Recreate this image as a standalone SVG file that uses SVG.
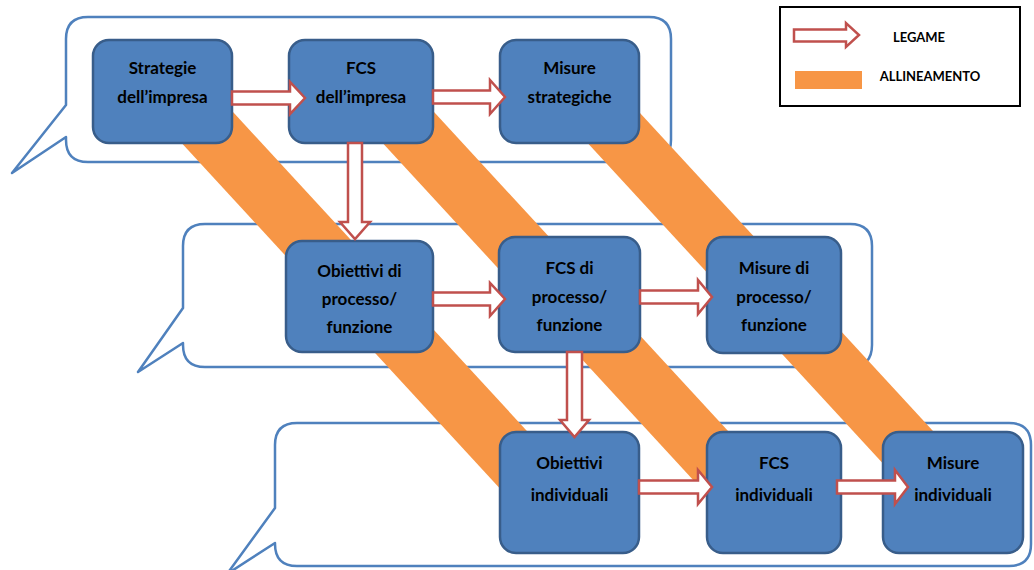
<svg xmlns="http://www.w3.org/2000/svg" width="1034" height="570" viewBox="0 0 1034 570">
  <style>
    .callout { fill: #ffffff; stroke: #4F81BD; stroke-width: 2.5; stroke-linejoin: round; }
    .band { fill: #F79646; }
    .node rect { fill: #4F81BD; stroke: #385D8A; stroke-width: 2.5; }
    .node text { font-family: Lato, "Liberation Sans", sans-serif; font-weight: bold; font-size: 17px; fill: #000000; text-anchor: middle; }
    .link { fill: #ffffff; stroke: #C0504D; stroke-width: 2.5; stroke-linejoin: miter; }
    .legend-box { fill: #ffffff; stroke: #000000; stroke-width: 2; }
    .legend-text { font-family: Lato, "Liberation Sans", sans-serif; font-weight: bold; font-size: 13px; fill: #000000; text-anchor: middle; }
  </style>

  <!-- speech-bubble frames for the three levels -->
  <g id="levels">
    <path class="callout" d="M88,17 H649 Q671,17 671,39 V140 Q671,162 649,162 H88 Q66,162 66,140 V137 L12,173 L66,105 V39 Q66,17 88,17 Z"/>
    <path class="callout" d="M205,224 H850 Q872,224 872,246 V345 Q872,367 850,367 H205 Q183,367 183,345 V343 L138,372 L183,308 V246 Q183,224 205,224 Z"/>
    <path class="callout" d="M297,423 H1009 Q1031,423 1031,445 V544 Q1031,566 1009,566 H297 Q275,566 275,544 V543 L227,574 L275,508 V445 Q275,423 297,423 Z"/>
  </g>

  <!-- alignment bands -->
  <g id="alignment">
    <polygon class="band" points="142,100 222,100 609,520 529,520"/>
    <polygon class="band" points="343,100 423,100 810,520 730,520"/>
    <polygon class="band" points="548,100 628,100 1015,520 935,520"/>
  </g>

  <!-- company level -->
  <g id="strategie-impresa" class="node">
    <rect x="93" y="40" width="139" height="103" rx="16"/>
    <text x="162.5" y="74">Strategie</text>
    <text x="162.5" y="103">dell’impresa</text>
  </g>
  <g id="fcs-impresa" class="node">
    <rect x="289" y="40" width="144" height="103" rx="16"/>
    <text x="361" y="74">FCS</text>
    <text x="361" y="103">dell’impresa</text>
  </g>
  <g id="misure-strategiche" class="node">
    <rect x="500" y="40" width="139" height="103" rx="16"/>
    <text x="569.5" y="74">Misure</text>
    <text x="569.5" y="103">strategiche</text>
  </g>

  <!-- process / function level -->
  <g id="obiettivi-processo" class="node">
    <rect x="286" y="241" width="147" height="111" rx="16"/>
    <text x="359.5" y="277">Obiettivi di</text>
    <text x="359.5" y="305">processo/</text>
    <text x="359.5" y="333">funzione</text>
  </g>
  <g id="fcs-processo" class="node">
    <rect x="499" y="237" width="141" height="115" rx="16"/>
    <text x="569.5" y="274">FCS di</text>
    <text x="569.5" y="303">processo/</text>
    <text x="569.5" y="331">funzione</text>
  </g>
  <g id="misure-processo" class="node">
    <rect x="707" y="237" width="134" height="116" rx="16"/>
    <text x="774" y="274">Misure di</text>
    <text x="774" y="303">processo/</text>
    <text x="774" y="331">funzione</text>
  </g>

  <!-- individual level -->
  <g id="obiettivi-individuali" class="node">
    <rect x="500" y="432" width="139" height="121" rx="16"/>
    <text x="569.5" y="469">Obiettivi</text>
    <text x="569.5" y="501">individuali</text>
  </g>
  <g id="fcs-individuali" class="node">
    <rect x="707" y="432" width="134" height="121" rx="16"/>
    <text x="774" y="469">FCS</text>
    <text x="774" y="501">individuali</text>
  </g>
  <g id="misure-individuali" class="node">
    <rect x="883" y="432" width="140" height="121" rx="16"/>
    <text x="953" y="469">Misure</text>
    <text x="953" y="501">individuali</text>
  </g>

  <!-- block-arrow links -->
  <g id="links">
    <path class="link" d="M232,91.5 H290 V82 L305,98 L290,114 V104.5 H232 Z"/>
    <path class="link" d="M433,90.5 H490 V80 L505,97 L490,114 V103.5 H433 Z"/>
    <path class="link" d="M348,143 V222 H340 L355,239 L370,222 H362 V143 Z"/>
    <path class="link" d="M433,292.5 H490 V283 L505,299 L490,316 V305.5 H433 Z"/>
    <path class="link" d="M640,290.5 H698 V280 L712,297 L698,314 V303.5 H640 Z"/>
    <path class="link" d="M567,352 V420 H560 L574.5,437 L589,420 H582 V352 Z"/>
    <path class="link" d="M639,480.5 H698 V470 L712,487 L698,504 V493.5 H639 Z"/>
    <path class="link" d="M837,480.5 H895 V470 L908,487 L895,504 V493.5 H837 Z"/>
  </g>

  <!-- key -->
  <g id="legend">
    <rect class="legend-box" x="780" y="7" width="240" height="99"/>
    <path class="link" d="M794,29.5 H846 V23 L859,35 L846,47 V41.5 H794 Z" stroke-width="2"/>
    <text class="legend-text" x="919" y="42">LEGAME</text>
    <rect class="band" x="795" y="71" width="67" height="18"/>
    <text class="legend-text" x="930" y="81">ALLINEAMENTO</text>
  </g>
</svg>
